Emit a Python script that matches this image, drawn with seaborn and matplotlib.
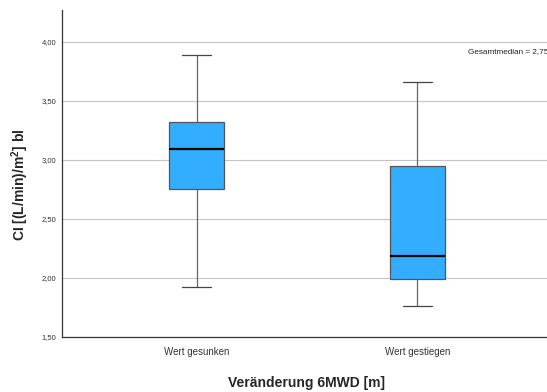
import numpy as np
import pandas as pd
import matplotlib
matplotlib.use("Agg")
import matplotlib.pyplot as plt
import seaborn as sns

# Five-number summaries per group: min, Q1, median, Q3, max
groups = ["Wert gesunken", "Wert gestiegen"]
gesunken = [1.92, 2.75, 3.09, 3.32, 3.89]
gestiegen = [1.76, 1.99, 2.19, 2.95, 3.66]
y_ticks = [1.5, 2.0, 2.5, 3.0, 3.5, 4.0]
overall_median = 2.75

df = pd.DataFrame({
    "group": [groups[0]] * len(gesunken) + [groups[1]] * len(gestiegen),
    "ci": gesunken + gestiegen,
})

sns.set_style("white")
plt.rcParams["font.family"] = ["Liberation Sans", "DejaVu Sans"]
plt.rcParams["mathtext.fontset"] = "custom"
plt.rcParams["mathtext.bf"] = "Liberation Sans:bold"

fig = plt.figure(figsize=(5.47, 3.92), dpi=100)
ax = fig.add_axes([62 / 547, 55 / 392, 490 / 547, 327 / 392])

sns.boxplot(
    data=df, x="group", y="ci", order=groups, ax=ax,
    whis=(0, 100), width=0.25, color="#33adff", saturation=1,
    linewidth=0.9, linecolor="#555555",
    boxprops=dict(facecolor="#33adff", edgecolor="#555555"),
    medianprops=dict(color="black", linewidth=1.6),
    whiskerprops=dict(color="#666666", linewidth=0.9),
    capprops=dict(color="#444444", linewidth=0.9),
    capwidths=0.13,
)

ax.set_xlim(-0.61, 1.61)
ax.set_ylim(1.5, 4.27)
ax.set_yticks(y_ticks)
ax.set_yticklabels([f"{v:.2f}".replace(".", ",") for v in y_ticks],
                   fontsize=5.5, color="#333333")
ax.tick_params(axis="x", labelsize=7, colors="#333333", length=0, pad=7)
ax.tick_params(axis="y", length=0, pad=4)
ax.grid(axis="y", color="#c4c4c4", linewidth=0.8)
ax.set_axisbelow(True)

for side in ("top", "right"):
    ax.spines[side].set_visible(False)
for side in ("left", "bottom"):
    ax.spines[side].set_color("#333333")
    ax.spines[side].set_linewidth(0.9)

ax.set_xlabel("Veränderung 6MWD [m]", fontsize=10, fontweight="bold",
              labelpad=14)
ax.set_ylabel(r"CI [(L/min)/m$^{\mathbf{2}}$] bl", fontsize=10,
              fontweight="bold")
ax.yaxis.set_label_coords(-0.063, 0.466)

ax.text(468 / 547, 1 - 52 / 392,
        f"Gesamtmedian = {overall_median:.2f}".replace(".", ","),
        transform=fig.transFigure, fontsize=5.9, color="#222222",
        va="center", ha="left")

fig.savefig("out.png", dpi=100)
